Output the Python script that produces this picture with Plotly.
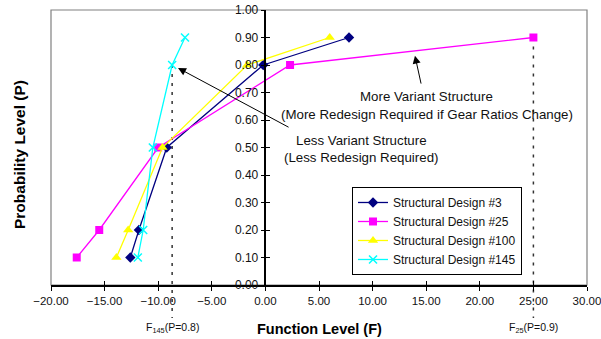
import plotly.graph_objects as go

# ---- data ----
P = [0.1, 0.2, 0.5, 0.8, 0.9]
design3 = [-12.6, -11.8, -9.2, -0.2, 7.8]
design25 = [-17.6, -15.5, -10.0, 2.3, 25.0]
design100 = [-13.9, -12.8, -9.6, -1.7, 6.0]
design145 = [-11.9, -11.4, -10.5, -8.7, -7.5]
series_names = ["Structural Design #3", "Structural Design #25",
                "Structural Design #100", "Structural Design #145"]
x_ticks = [-20, -15, -10, -5, 0, 5, 10, 15, 20, 25, 30]
y_ticks = [0.0, 0.1, 0.2, 0.3, 0.4, 0.5, 0.6, 0.7, 0.8, 0.9, 1.0]

FONT = "Liberation Sans, Arial, sans-serif"

styles = [
    dict(color="#000080", symbol="diamond", size=8),
    dict(color="#FF00FF", symbol="square", size=8),
    dict(color="#FFFF00", symbol="triangle-up", size=9),
    dict(color="#00FFFF", symbol="x-thin", size=8),
]
series = [design3, design25, design100, design145]

fig = go.Figure()
for name, vals, st in zip(series_names, series, styles):
    marker = dict(color=st["color"], symbol=st["symbol"], size=st["size"])
    if st["symbol"] == "x-thin":
        marker["line"] = dict(color=st["color"], width=1.5)
    fig.add_trace(go.Scatter(
        x=vals, y=P, name=name, mode="lines+markers",
        line=dict(color=st["color"], width=1.3),
        marker=marker, cliponaxis=False))

# invisible trace on overlay axes for crossing tick marks
fig.add_trace(go.Scatter(x=[None], y=[None], xaxis="x2", yaxis="y2",
                         showlegend=False, hoverinfo="skip"))

xmin, xmax = -20, 30
ypos = (0 - xmin) / (xmax - xmin)

fig.update_layout(
    template="none",
    width=601, height=339,
    margin=dict(l=51, r=14, t=10, b=54, autoexpand=False),
    paper_bgcolor="white", plot_bgcolor="white",
    font=dict(family=FONT, size=12, color="#111111"),
    xaxis=dict(range=[xmin, xmax], tickvals=x_ticks, tickformat=".2f",
               automargin=False, ticklabeloverflow="allow",
               showgrid=False, zeroline=False, showline=True,
               linecolor="black", linewidth=1.5, ticks="outside",
               ticklen=4, tickcolor="black", tickwidth=1.2,
               tickfont=dict(size=11.5, color="#111111"),
               title=dict(text="")),
    yaxis=dict(range=[0, 1], tickvals=y_ticks, tickformat=".2f",
               anchor="free", position=ypos, automargin=False,
               ticklabeloverflow="allow",
               showgrid=False, zeroline=False, showline=True,
               linecolor="black", linewidth=1.5, ticks="outside",
               ticklen=4, tickcolor="black", tickwidth=1.2,
               tickfont=dict(size=12, color="#111111")),
    xaxis2=dict(range=[xmin, xmax], tickvals=x_ticks, overlaying="x",
                showticklabels=False, showgrid=False, zeroline=False,
                automargin=False,
                ticks="inside", ticklen=4, tickcolor="black", tickwidth=1.2,
                anchor="y"),
    yaxis2=dict(range=[0, 1], tickvals=y_ticks, overlaying="y",
                anchor="free", position=ypos, automargin=False,
                showticklabels=False, showgrid=False, zeroline=False,
                ticks="inside", ticklen=4, tickcolor="black", tickwidth=1.2),
    legend=dict(x=0.5616, y=0.3564, xanchor="left", yanchor="top",
                bgcolor="white", bordercolor="black", borderwidth=1,
                font=dict(size=12, color="#111111"), itemwidth=30,
                tracegroupgap=0),
    showlegend=True,
)

# gray frame around plot area
fig.add_shape(type="rect", xref="paper", yref="paper", x0=0, x1=1, y0=0, y1=1,
              line=dict(color="#808080", width=1.2), layer="below")

# dashed reference lines from data
f145 = design145[P.index(0.8)]
f25 = design25[P.index(0.9)]
for xv, pv in [(f145, 0.8), (f25, 0.9)]:
    fig.add_shape(type="line", xref="x", yref="paper", x0=xv, x1=xv,
                  y0=pv, y1=-0.12,
                  line=dict(color="#333333", width=1.5, dash="3px,6px"),
                  layer="below")

for xv, txt in [(f145, "F<sub>145</sub>(P=0.8)"), (f25, "F<sub>25</sub>(P=0.9)")]:
    fig.add_annotation(x=xv, y=(285 - 328) / 275, xref="x", yref="paper",
                       xanchor="center", yanchor="middle",
                       text=txt, showarrow=False,
                       font=dict(size=10.5, color="#111111"))

# arrows
fig.add_annotation(x=-8.15, y=0.789, ax=2.3, ay=0.571, xref="x", yref="y",
                   axref="x", ayref="y", text="", showarrow=True,
                   arrowhead=2, arrowsize=1.6, arrowwidth=1, arrowcolor="black")
fig.add_annotation(x=13.95, y=0.834, ax=14.55, ay=0.727, xref="x", yref="y",
                   axref="x", ayref="y", text="", showarrow=True,
                   arrowhead=2, arrowsize=1.6, arrowwidth=1, arrowcolor="black")

texts = [
    ("More Variant Structure", 15.07, 0.685),
    ("(More Redesign Required if Gear Ratios Change)", 15.07, 0.621),
    ("Less Variant Structure", 8.92, 0.527),
    ("(Less Redesign Required)", 8.92, 0.463),
]
for t, xv, yv in texts:
    fig.add_annotation(x=xv, y=yv, xref="x", yref="y", text=t,
                       xanchor="center", yanchor="middle",
                       showarrow=False, font=dict(size=13.3, color="#111111"))

# axis titles
fig.add_annotation(x=0.5, y=(285 - 329) / 275, xref="paper", yref="paper",
                   xanchor="center", yanchor="middle",
                   text="<b>Function Level (F)</b>", showarrow=False,
                   font=dict(size=14.5, color="black"))
fig.add_annotation(x=(19 - 51) / 536, y=(285 - 155) / 275, xref="paper",
                   yref="paper", xanchor="center", yanchor="middle",
                   text="<b>Probability Level (P)</b>",
                   textangle=-90, showarrow=False,
                   font=dict(size=15.5, color="black"))

# remove the browser's default 8px body margin so the figure fills the window
fig.write_html("out.html",
               config={"displayModeBar": False},
               post_script="document.body.style.margin='0px';"
                           "document.body.style.overflow='hidden';")
